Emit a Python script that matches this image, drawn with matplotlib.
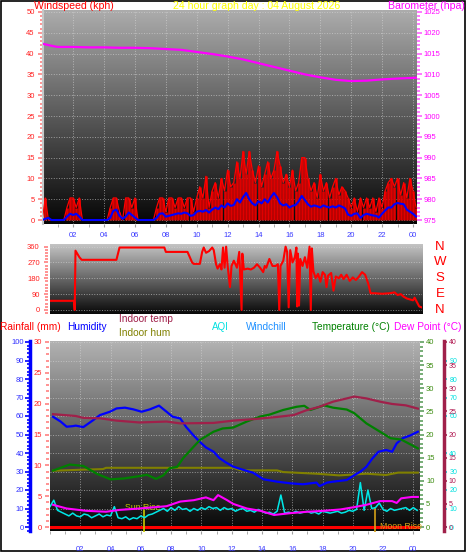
import numpy as np
import matplotlib
matplotlib.use("Agg")
import matplotlib.pyplot as plt
import matplotlib.transforms as mtransforms
from matplotlib.colors import LinearSegmentedColormap
from matplotlib.ticker import MultipleLocator, FixedLocator, FuncFormatter
from matplotlib.patches import Rectangle

plt.rcParams['font.family'] = ['Liberation Sans', 'DejaVu Sans']

W, H = 466, 555

# ---------------- data: wind panel (sampled every 0.2 h) ----------------
wind_t = np.round(np.arange(0, 24.3, 0.2), 1)
gust = [0, 5.3, 0, 0, 0,   0, 0, 0, 3, 5.3,   5.3, 3, 5.3, 0, 0,   0, 0, 0, 0, 0,
        0, 0, 3, 5.3, 5.3,   2, 0, 5.3, 5.3, 3,   5.3, 0, 0, 0, 0,   0, 0, 3, 5.3, 5.3,
        2, 5.3, 5.3, 3, 5.3,   5.3, 3, 5.3, 5.3, 2,   5.3, 8, 5.3, 10.5, 3,   7, 9, 5.3, 10, 7,
        12, 8, 9, 14, 10,   16.5, 11, 16.5, 12, 9,   13, 8, 11, 14, 10,   12, 16.5, 13, 9, 11,
        8, 12, 7, 9, 15,   15, 10, 7, 9, 5.3,   11, 7, 9, 5.3, 8,   10, 6, 8, 7, 5.3,
        3, 5.3, 2, 5.3, 3,   5.3, 3, 5.3, 2, 5.3,   3, 7, 9, 10, 8,   10, 6, 9, 5.3, 10,
        7, 3]
avg_wind = [0, 0.3, 0.5, 0, 0,   0, 0, 0, 0.8, 1.5,   1.2, 1.5, 0.8, 0, 0,   0, 0, 0, 0, 0,
            0, 0, 0.5, 2.2, 2.5,   1.0, 0.3, 0.8, 1.8, 1.2,   0.6, 0, 0, 0, 0,   0, 0, 0.5, 1.5, 1.6,
            0.8, 1.0, 1.2, 1.4, 1.6,   1.5, 1.8, 1.6, 1.0, 1.2,   2.0, 2.2, 2.0, 2.4, 1.8,   2.5, 3.0, 2.6, 3.5, 3.0,
            4.0, 3.4, 3.6, 5.0, 4.2,   5.5, 6.5, 5.0, 4.0, 3.5,   4.5, 4.0, 5.0, 4.2, 5.5,   6.5, 5.5, 4.0, 3.5, 3.8,
            3.0, 3.4, 3.6, 4.5, 5.8,   4.8, 3.8, 3.2, 3.5, 3.3,   3.0, 3.5, 3.2, 3.0, 3.3,   3.0, 3.5, 3.2, 2.8, 1.3,
            1.0, 1.5, 1.6, 0.5, 1.2,   1.5, 1.3, 1.1, 1.0, 0.6,   1.5, 2.3, 3.0, 3.0, 3.8,   4.1, 3.9, 3.8, 2.5, 2.0,
            1.5, 0.8]

baro_t = [0.1, 0.7, 1, 2, 3, 4, 5, 6, 7, 8, 9, 10, 11, 12, 13, 14, 15, 16, 17, 18, 19, 20, 21, 22, 23, 24.2]
baro_v = [1017.3, 1016.8, 1016.6, 1016.6, 1016.5, 1016.5, 1016.4, 1016.4, 1016.3, 1016.1, 1015.9,
          1015.4, 1014.9, 1014.3, 1013.6, 1012.7, 1011.8, 1010.9, 1010.0, 1009.3, 1008.7, 1008.4,
          1008.5, 1008.8, 1009.0, 1009.2]

# ---------------- data: wind direction ----------------
dir_t = [0.0, 1.55, 1.6, 1.65, 1.9, 2.05, 4.3, 4.5, 7.4, 7.5, 8.9, 9.2, 9.3, 9.7, 9.85, 9.95,
         10.1, 10.3, 10.5, 10.6, 10.75, 10.85, 11.0, 11.1, 11.2, 11.3, 11.4, 11.5, 11.65, 11.75,
         11.9, 12.0, 12.1, 12.25, 12.4, 12.45, 12.55, 12.8, 13.0, 13.2, 13.4, 13.6, 13.8, 13.9,
         14.0, 14.2, 14.4, 14.6, 14.75, 14.84, 14.92, 15.1, 15.25, 15.35, 15.45, 15.55, 15.7,
         15.85, 15.95, 16.0, 16.05, 16.12, 16.2, 16.35, 16.5, 16.65, 16.8, 16.88, 16.95, 17.05,
         17.2, 17.35, 17.5, 17.65, 17.8, 17.9, 18.0, 18.2, 18.35, 18.5, 18.7, 18.85, 19.0, 19.2,
         19.4, 19.6, 19.8, 20.0, 20.2, 20.4, 20.6, 20.75, 21.0, 21.5, 22.0, 22.3, 22.5, 22.7,
         22.9, 23.1, 23.3, 23.5, 23.6, 23.75, 23.9, 24.05]
dir_v = [52, 52, 0, 337, 300, 285, 285, 355, 355, 330, 330, 270, 262, 262, 330, 355,
         325, 335, 355, 340, 260, 235, 260, 230, 355, 240, 360, 250, 130, 250,
         280, 260, 240, 330, 0, 320, 230, 235, 230, 240, 260, 240, 215, 250,
         240, 290, 250, 250, 260, 0, 250, 280, 360, 330, 15, 340, 270,
         300, 355, 20, 320, 25, 290, 250, 300, 240, 360, 0, 350, 220,
         180, 205, 160, 215, 200, 130, 195, 210, 110, 190, 180, 200, 175, 200,
         165, 185, 170, 190, 215, 200, 150, 95, 95, 92, 95, 100, 85, 90,
         75, 65, 60, 55, 70, 45, 20, 15]

# ---------------- data: bottom panel ----------------
hum_t = [0.2, 0.7, 1.1, 1.5, 1.7, 2.2, 2.86, 3.3, 3.96, 4.4, 4.95, 5.5, 6.05, 6.6, 7.2, 7.7, 8.1,
         8.6, 9.0, 9.46, 9.9, 10.3, 10.8, 11.2, 11.6, 12.1, 12.8, 13.4, 14.1, 15.0, 15.9, 16.7,
         17.6, 17.8, 18.3, 18.7, 19.6, 20.1, 20.5, 20.9, 21.3, 21.7, 22.2, 22.6, 22.9, 23.3, 23.8, 24.3]
hum_v = [59.6, 57, 54.2, 54.5, 54.8, 54, 57.8, 60.5, 62.3, 64.1, 64.5, 63.6, 62.3, 63.6, 65.6, 62.3,
         59.6, 58.7, 54, 49.7, 46, 43, 40.7, 37.2, 35, 32.6, 30.8, 29.4, 25.8, 24.5, 23.6, 23.1,
         24, 22.1, 24, 24.5, 25.4, 28, 29.9, 32.6, 37.1, 40.7, 41.6, 40.7, 45.2, 48, 49.5, 51.5]

intemp_t = [0.2, 1.7, 2.2, 3.3, 4.4, 5.9, 7.7, 8.6, 10.8, 12.1, 13.4, 15.0, 16.1, 16.9, 17.8,
            18.7, 19.6, 20.1, 20.9, 21.8, 22.6, 23.5, 24.3]
intemp_v = [24.4, 24.0, 23.6, 23.5, 23.0, 22.6, 22.8, 22.4, 22.5, 23.0, 23.3, 23.8, 24.2, 25.2, 26.0,
            27.1, 27.8, 28.2, 27.8, 27.1, 26.6, 26.3, 25.6]

temp_t = [0.2, 1.3, 2.2, 3.1, 4.0, 4.9, 5.9, 6.4, 7.0, 7.5, 7.9, 8.4, 8.8, 9.5, 9.9, 10.8, 11.4,
          12.1, 13.0, 13.9, 14.5, 15.4, 16.3, 16.8, 17.2, 18.1, 18.7, 19.6, 20.1, 20.9, 21.8,
          22.5, 23.2, 23.9, 24.3]
temp_v = [12.2, 13.5, 13.2, 11.5, 10.3, 10.5, 11.0, 11.3, 10.4, 11.2, 12.7, 13.0, 14.9, 17.4, 18.8,
          20.6, 21.3, 21.5, 22.8, 23.9, 24.3, 25.3, 26.0, 26.2, 25.3, 26.3, 25.8, 25.4, 24.6, 22.4,
          20.6, 19.2, 18.9, 17.7, 17.0]

inhum_t = [0.2, 2.2, 3.5, 3.7, 12.1, 12.6, 15.0, 15.4, 17.6, 19.1, 20.9, 22.2, 23.0, 24.3]
inhum_v = [30.4, 31.0, 31.3, 32.0, 32.0, 30.6, 30.6, 29.7, 28.8, 27.9, 28.8, 28.1, 29.4, 29.4]

dew_t = [0.2, 1.1, 2.4, 3.7, 4.6, 5.9, 7.7, 8.6, 9.5, 10.3, 10.8, 11.1, 11.7, 12.1, 13.0, 13.9,
         14.8, 15.9, 17.0, 18.1, 19.2, 20.1, 20.9, 21.8, 22.6, 22.9, 23.2, 23.9, 24.3]
dew_v = [4.8, 4.0, 3.5, 3.3, 3.7, 4.0, 4.5, 5.5, 5.8, 6.4, 5.8, 6.9, 5.8, 5.0, 4.0, 3.5,
         2.6, 3.0, 3.3, 3.5, 3.8, 4.3, 4.8, 5.6, 5.6, 5.2, 6.2, 6.5, 6.5]

aqi_t = np.arange(0, 24.3, 0.25)
aqi_v = [11, 14.5, 9, 8, 7, 6, 7.5, 6, 5.5, 7, 6.5, 5, 6, 7, 5.5, 6.5,
         6, 11, 5, 4.5, 5.5, 4, 5, 4.5, 6, 5, 6.5, 7, 8, 9, 10, 8.5,
         10.5, 9, 11, 9.5, 10, 8.5, 10, 9, 10.5, 9.5, 11, 10, 10.5, 9, 10.5, 9.5,
         10, 8.5, 9.5, 10, 8.5, 9, 8, 9.5, 8.5, 7.5, 8, 7, 8.5, 17.3, 7.5, 8,
         7.5, 8.5, 7.5, 8, 8.5, 7.5, 8, 7, 8.5, 8, 7.5, 8, 8.5, 7.5, 8, 9,
         8.5, 9.5, 24, 9, 20, 10, 10.5, 13, 9.5, 8.5, 10, 9, 9.5, 10, 10.5, 9,
         10.5, 9]

rain_t = [0, 24.4]
rain_v = [0, 0]

hour_ticks = list(range(2, 25, 2))


def rect(x0, y0, x1, y1):
    return [x0 / W, 1 - y1 / H, (x1 - x0) / W, (y1 - y0) / H]


def add_bg(r, top, bottom):
    bg = fig.add_axes(r, zorder=0)
    grad = np.linspace(0, 1, 256).reshape(-1, 1)
    cmap = LinearSegmentedColormap.from_list('bg', [bottom, top])
    bg.imshow(grad, aspect='auto', cmap=cmap, origin='lower', extent=[0, 1, 0, 1])
    bg.set_axis_off()


def hide_spines(ax):
    for s in ax.spines.values():
        s.set_visible(False)


def yticks(ax, major, minor, tick_c, label_c, length=3, pad=2, size=5.5):
    ax.yaxis.set_major_locator(major)
    ax.yaxis.set_minor_locator(minor)
    ax.tick_params(axis='y', which='both', colors=tick_c, labelcolor=label_c,
                   labelsize=size, pad=pad, width=1.2)
    ax.tick_params(axis='y', which='major', length=length)
    ax.tick_params(axis='y', which='minor', length=length * 0.7)


hour_fmt = FuncFormatter(lambda v, p: '%02d' % (int(round(v)) % 24))

fig = plt.figure(figsize=(W / 100, H / 100), dpi=100)
blue_lbl = '#3a3aff'
grid_kw = dict(color='#d8d8d8', ls=':', lw=0.7, alpha=0.6)

# ================= panel 1: windspeed / barometer =================
r1 = rect(43, 10, 417, 224)
add_bg(r1, '#acacac', '#050505')
ax1 = fig.add_axes(r1, zorder=1)
ax1.patch.set_visible(False)
hide_spines(ax1)
ax1.spines['left'].set_visible(True)
ax1.spines['left'].set_color('#c8c8c8')
ax1.spines['left'].set_linewidth(1.5)
ax1.set_xlim(0.05, 24.26)
ax1.set_ylim(-0.96, 50.48)
ax1.vlines(wind_t, 0, gust, colors='#e00000', lw=1.9, zorder=2)
ax1.plot(wind_t, gust, color='#ff0000', lw=0.9, zorder=3)
ax1.plot(wind_t, avg_wind, color='#0000ff', lw=1.5, zorder=4)
yticks(ax1, MultipleLocator(5), MultipleLocator(1), '#ff8080', '#ff2020', length=3.5, pad=2.5)
ax1.xaxis.set_major_locator(FixedLocator(hour_ticks))
ax1.xaxis.set_major_formatter(hour_fmt)
ax1.xaxis.set_minor_locator(MultipleLocator(1))
ax1.tick_params(axis='x', which='both', colors='#a0a0a0', labelcolor=blue_lbl, labelsize=5.5,
                length=2, pad=4)
ax1.grid(True, which='major', **grid_kw)

ax1b = ax1.twinx()
ax1b.set_zorder(2)
hide_spines(ax1b)
ax1b.set_ylim(975 - 0.96, 975 + 50.48)
ax1b.plot(baro_t, baro_v, color='#ff00ff', lw=1.6)
yticks(ax1b, MultipleLocator(5), MultipleLocator(1), '#ff60ff', '#ff00ff', length=3.5, pad=1.5)

# ================= panel 2: wind direction =================
r2 = rect(50, 244, 422, 314)
add_bg(r2, '#c4c4c4', '#080808')
ax2 = fig.add_axes(r2, zorder=1)
ax2.patch.set_visible(False)
hide_spines(ax2)
ax2.set_xlim(0, 24.08)
ax2.set_ylim(-23, 375)
ax2.plot(dir_t, dir_v, color='#ff0000', lw=1.5)
ax2.spines['left'].set_position(('outward', 1.4))
yticks(ax2, FixedLocator([0, 90, 180, 270, 360]), MultipleLocator(18), '#ff8080', '#ff2020',
       length=3, pad=3)
ax2.set_xticks([])
ax2.grid(True, axis='y', which='major', **grid_kw)
tr2 = mtransforms.blended_transform_factory(ax2.transAxes, ax2.transData)
for deg, lab in zip([360, 270, 180, 90, 0], ['N', 'W', 'S', 'E', 'N']):
    ax2.text(1.048, deg, lab, transform=tr2, color='#ff0000', fontsize=9.5,
             ha='center', va='center', clip_on=False)

# ================= panel 3: rain / humidity / temperatures =================
r3 = rect(50, 341, 420, 531)
add_bg(r3, '#b2b2b2', '#050505')
top_f = 1 + 1 / 185.0
bot_f = -4 / 185.0

axH = fig.add_axes(r3, zorder=1)
axH.patch.set_visible(False)
hide_spines(axH)
axH.set_xlim(0, 24.44)
axH.set_ylim(100 * bot_f, 100 * top_f)
axH.spines['left'].set_visible(True)
axH.spines['left'].set_position(('outward', 14.4))
axH.spines['left'].set_color('#0000ff')
axH.spines['left'].set_linewidth(2.5)
yticks(axH, MultipleLocator(10), MultipleLocator(2), '#0000ff', '#3030ff', length=3.5, pad=1)
axH.plot(hum_t, hum_v, color='#0000ff', lw=1.6, zorder=3)
axH.plot(inhum_t, inhum_v, color='#808000', lw=1.5, zorder=2)
axH.xaxis.set_major_locator(FixedLocator(hour_ticks))
axH.xaxis.set_major_formatter(hour_fmt)
axH.xaxis.set_minor_locator(MultipleLocator(1))
axH.tick_params(axis='x', which='both', colors='#a0a0a0', labelcolor=blue_lbl, labelsize=5.5,
                length=2, pad=9)
axH.grid(True, which='major', **grid_kw)

axR = axH.twinx()
axR.set_zorder(2)
hide_spines(axR)
axR.yaxis.tick_left()
axR.spines['left'].set_position(('outward', 0.7))
axR.set_ylim(30 * bot_f, 30 * top_f)
yticks(axR, MultipleLocator(5), MultipleLocator(1), '#ff8080', '#ff2020', length=2.9, pad=2.2)
axR.plot(rain_t, rain_v, color='#ff0000', lw=2.2)

axT = axH.twinx()
axT.set_zorder(3)
hide_spines(axT)
axT.set_ylim(40 * bot_f, 40 * top_f)
yticks(axT, MultipleLocator(5), MultipleLocator(1), '#60a060', '#3c8c10', length=2.9, pad=1.4)
axT.plot(temp_t, temp_v, color='#008000', lw=1.6)
# sunrise / moonrise markers
axT.vlines(6.2, -1, 3.7, colors='#c8c800', lw=1.2, clip_on=False)
axT.text(4.97, 4.3, 'Sun Rise', color='#c0c000', fontsize=6.3, ha='left', va='center')
axT.vlines(21.47, -1, 4.1, colors='#d4a017', lw=1.2, clip_on=False)
axT.text(21.8, 0.1, 'Moon Rise', color='#d4a017', fontsize=6.3, ha='left', va='center')

axQ = axH.twinx()
axQ.set_zorder(4)
hide_spines(axQ)
axQ.spines['right'].set_position(('outward', 17.3))
axQ.set_ylim(100 * bot_f, 100 * top_f)
yticks(axQ, FixedLocator([0, 10, 20, 30, 40, 60, 70, 80, 90]), MultipleLocator(2),
       '#00e0e0', '#00e0e0', length=2.2, pad=1.6, size=5.0)
axQ.tick_params(axis='y', which='minor', length=0)
axQ.plot(aqi_t, aqi_v, color='#00e8e8', lw=1.1)

axD = axH.twinx()
axD.set_zorder(5)
hide_spines(axD)
axD.spines['right'].set_visible(True)
axD.spines['right'].set_position(('outward', 17.3))
axD.spines['right'].set_color('#a0204a')
axD.spines['right'].set_linewidth(2.5)
axD.set_ylim(40 * bot_f, 40 * top_f)
yticks(axD, MultipleLocator(5), MultipleLocator(1), '#a0204a', '#b01850', length=2.2, pad=1,
       size=5.0)
axD.plot(intemp_t, intemp_v, color='#a0204a', lw=1.6)
axD.plot(dew_t, dew_v, color='#ff00ff', lw=1.5)

# ================= headers and legend texts =================
def ftext(x, y, s, color, size=7.5, ha='left'):
    fig.text(x / W, 1 - y / H, s, color=color, fontsize=size, ha=ha, va='center')


ftext(34, 6, 'Windspeed (kph)', '#ff0000', 7.6)
ftext(173, 6, '24 hour graph day : 04 August 2026', '#ffff00', 7.6)
ftext(465, 6, 'Barometer (hpa)', '#ff00ff', 7.6, ha='right')

ftext(0, 327, 'Rainfall (mm)', '#ff0000', 7.3)
ftext(67, 327, 'Humidity', '#0000ff', 7.3)
ftext(119, 319, 'Indoor temp', '#a0204a', 7.3)
ftext(119, 333, 'Indoor hum', '#808000', 7.3)
ftext(212, 327, 'AQI', '#00e0e0', 7.0)
ftext(246, 327, 'Windchill', '#1e90ff', 7.3)
ftext(312, 327, 'Temperature (°C)', '#008000', 7.3)
ftext(394, 327, 'Dew Point (°C)', '#ff00ff', 7.3)

fig.add_artist(Rectangle((0.5 / W, 1 - 550.5 / H), 464.5 / W, 550 / H,
                         transform=fig.transFigure, fill=False, ec='black', lw=1.2))

fig.savefig('out.png', dpi=100)
